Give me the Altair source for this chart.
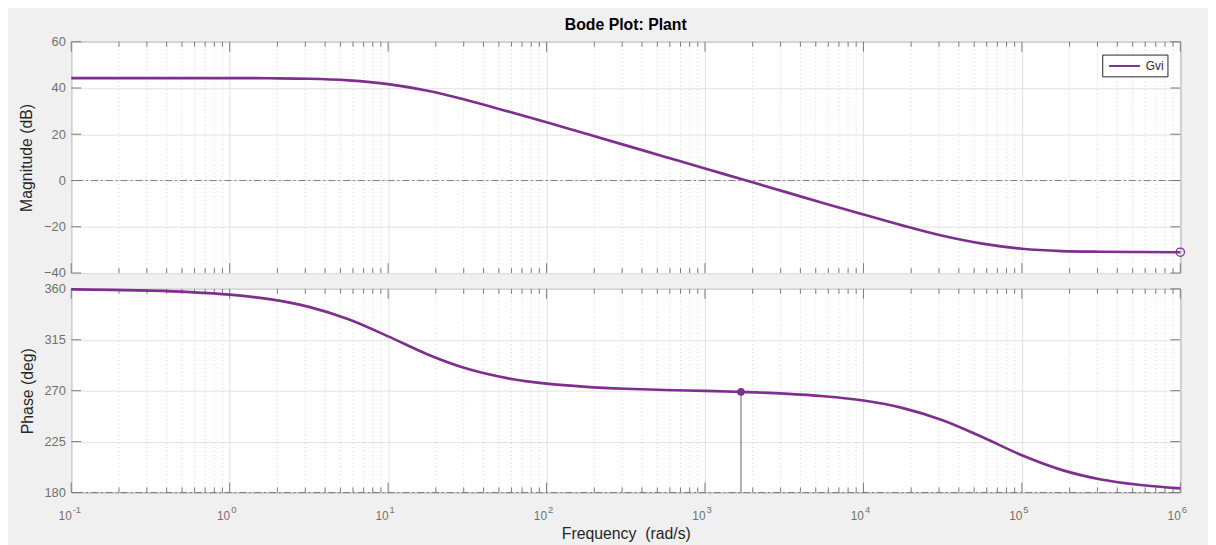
import altair as alt
import pandas as pd

# ---------------- data ----------------
freq = [0.1, 0.1778, 0.3162, 0.5623, 1.0, 1.778, 3.162, 5.623, 10.0, 17.78, 31.62,
        56.23, 100.0, 177.8, 316.2, 562.3, 1000.0, 1778.0, 3162.0, 5623.0, 10000.0,
        17780.0, 31620.0, 56230.0, 100000.0, 177800.0, 316200.0, 562300.0, 1000000.0]
mag_db = [44.3, 44.3, 44.3, 44.3, 44.3, 44.2, 44.0, 43.3, 41.7, 38.8, 34.7,
          30.0, 25.2, 20.2, 15.2, 10.2, 5.2, 0.2, -4.8, -9.8, -14.7,
          -19.5, -23.9, -27.3, -29.5, -30.5, -30.8, -30.9, -31.0]
phase_deg = [359.5, 359.1, 358.4, 357.1, 354.9, 350.9, 344.1, 333.1, 318.0, 302.0, 289.3,
             281.1, 276.2, 273.4, 271.7, 270.6, 269.8, 268.8, 267.4, 265.1, 261.3,
             254.6, 243.9, 229.0, 212.9, 200.0, 191.5, 186.6, 183.7]
series_name = "Gvi"

major_x = [0.1, 1, 10, 100, 1000, 1e4, 1e5, 1e6]
exponents = ["-1", "0", "1", "2", "3", "4", "5", "6"]
decades = [0.1, 1, 10, 100, 1000, 1e4, 1e5]
minor_mult = [2, 3, 4, 5, 6, 7, 8, 9]
minor_x = [m * d for d in decades for m in minor_mult]
mag_ticks = [-40, -20, 0, 20, 40, 60]
phase_ticks = [180, 225, 270, 315, 360]
mag_ref = [0]
phase_ref = [180]
pm_freq = [1687]
pm_phase = [268.9]
pm_base = [180]

# ---------------- styling ----------------
FONT = "Liberation Sans"
PURPLE = "#7E2F8E"
GRID = "#e2e2e2"
MINOR = "#d4d4d4"
TICK = "#7a7a7a"
REF = "#808080"
LABEL = "#707070"
TITLE = "#262626"
W = 1122
H1 = 234
H2 = 206

xs = alt.Scale(type="log", domain=[0.1, 1e6], nice=False)
ys1 = alt.Scale(domain=[-40, 60], nice=False, zero=False)
ys2 = alt.Scale(domain=[180, 360], nice=False, zero=False)

curve = pd.DataFrame({"freq": freq, "mag": mag_db, "phase": phase_deg,
                      "series": [series_name] * len(freq)})
major_df = pd.DataFrame({"x": major_x, "e": exponents})
minor_df = pd.DataFrame({"x": minor_x})


def decorations(H, ys, yticks, refvals, xax, yax):
    minor_grid = alt.Chart(minor_df).mark_rule(
        color=MINOR, strokeDash=[1, 3], strokeWidth=1
    ).encode(x=alt.X("x:Q", scale=xs, axis=xax), y=alt.value(0), y2=alt.value(H))
    ref = alt.Chart(pd.DataFrame({"v": refvals})).mark_rule(
        color=REF, strokeDash=[7, 3, 2, 3], strokeWidth=1
    ).encode(y=alt.Y("v:Q", scale=ys, axis=yax))
    layers = [minor_grid, ref]
    for y0, y1, src in [(H, H - 10, major_df), (0, 10, major_df),
                        (H, H - 5, minor_df), (0, 5, minor_df)]:
        layers.append(
            alt.Chart(src).mark_rule(color=TICK, strokeWidth=1).encode(
                x=alt.X("x:Q", scale=xs, axis=xax), y=alt.value(y0), y2=alt.value(y1))
        )
    ydf = pd.DataFrame({"y": yticks})
    for x0, x1 in [(0, 10), (W, W - 10)]:
        layers.append(
            alt.Chart(ydf).mark_rule(color=TICK, strokeWidth=1).encode(
                y=alt.Y("y:Q", scale=ys, axis=yax), x=alt.value(x0), x2=alt.value(x1))
        )
    return layers


# ---------------- top panel: magnitude ----------------
x_axis_top = alt.Axis(values=major_x, labels=False, ticks=False, tickSize=0, domain=False,
                      grid=True, gridColor=GRID, title=None)
y_axis1 = alt.Axis(values=mag_ticks, ticks=False, tickSize=0, domain=False, grid=True,
                   gridColor=GRID, labelFontSize=13, labelColor=LABEL, labelFont=FONT,
                   labelPadding=6, labelOverlap=False,
                   title="Magnitude (dB)", titleFontSize=16, titleFont=FONT,
                   titleFontWeight="normal", titleColor=TITLE, titlePadding=9)

legend_line = "M-2.4,0H2.4"
mag_line = alt.Chart(curve).mark_line(strokeWidth=2.7, interpolate="monotone").encode(
    x=alt.X("freq:Q", scale=xs, axis=x_axis_top),
    y=alt.Y("mag:Q", scale=ys1, axis=y_axis1),
    color=alt.Color("series:N", scale=alt.Scale(domain=[series_name], range=[PURPLE]),
                    legend=alt.Legend(orient="top-right", offset=13, title=None,
                                      strokeColor="#262626", fillColor="white",
                                      padding=4, symbolType=legend_line, symbolSize=169,
                                      symbolStrokeWidth=2, symbolOffset=11,
                                      labelFontSize=12, labelFont=FONT,
                                      labelColor="#262626", labelOffset=14)),
)
end_pt = alt.Chart(pd.DataFrame({"freq": [freq[-1]], "mag": [mag_db[-1]]})).mark_point(
    shape="circle", filled=False, color=PURPLE, size=70, strokeWidth=1.3, opacity=1
).encode(x=alt.X("freq:Q", scale=xs, axis=x_axis_top),
         y=alt.Y("mag:Q", scale=ys1, axis=y_axis1))

top = alt.layer(*decorations(H1, ys1, mag_ticks, mag_ref, x_axis_top, y_axis1),
                mag_line, end_pt).properties(
    width=W, height=H1,
    title=alt.TitleParams("Bode Plot: Plant", fontSize=16, fontWeight="bold", font=FONT,
                          color="#000000", anchor="middle", offset=3),
)

# ---------------- bottom panel: phase ----------------
x_axis_bot = alt.Axis(values=major_x, labelExpr="'10'", labelAlign="right",
                      labelBaseline="alphabetic", labelPadding=27,
                      labelFontSize=12, labelColor=LABEL, labelFont=FONT,
                      labelOverlap=False, labelFlush=False,
                      ticks=False, tickSize=0, domain=False, grid=True, gridColor=GRID,
                      title="Frequency\u00a0 (rad/s)", titleFontSize=16, titleFont=FONT,
                      titleFontWeight="normal", titleColor=TITLE, titleX=W / 2, titleY=42,
                      titleBaseline="middle")
y_axis2 = alt.Axis(values=phase_ticks, ticks=False, tickSize=0, domain=False, grid=True,
                   gridColor=GRID, labelFontSize=13, labelColor=LABEL, labelFont=FONT,
                   labelPadding=6, labelOverlap=False,
                   title="Phase (deg)", titleFontSize=16, titleFont=FONT,
                   titleFontWeight="normal", titleColor=TITLE, titlePadding=9)

pm_df = pd.DataFrame({"freq": pm_freq, "phase": pm_phase, "base": pm_base})
pm_rule = alt.Chart(pm_df).mark_rule(color="#7a7a7a", strokeWidth=1.2).encode(
    x=alt.X("freq:Q", scale=xs, axis=x_axis_bot),
    y=alt.Y("base:Q", scale=ys2, axis=y_axis2), y2="phase:Q")
phase_line = alt.Chart(curve).mark_line(strokeWidth=2.7, interpolate="monotone",
                                        color=PURPLE).encode(
    x=alt.X("freq:Q", scale=xs, axis=x_axis_bot),
    y=alt.Y("phase:Q", scale=ys2, axis=y_axis2),
)
pm_pt = alt.Chart(pm_df).mark_circle(size=60, color=PURPLE, opacity=1).encode(
    x=alt.X("freq:Q", scale=xs, axis=x_axis_bot),
    y=alt.Y("phase:Q", scale=ys2, axis=y_axis2))
exp_text = alt.Chart(major_df).mark_text(
    align="left", baseline="alphabetic", fontSize=9.5, font=FONT, color=LABEL, dx=1.5
).encode(x=alt.X("x:Q", scale=xs, axis=x_axis_bot), y=alt.value(H2 + 21), text="e:N")

bottom = alt.layer(*decorations(H2, ys2, phase_ticks, phase_ref, x_axis_bot, y_axis2),
                   pm_rule, phase_line, pm_pt, exp_text).properties(width=W, height=H2)

chart = alt.vconcat(top, bottom, spacing=16, bounds="flush").resolve_legend(
    color="independent"
).configure(
    background="#f0f0f0",
    padding={"left": 10, "top": 5, "right": 20, "bottom": 0},
).configure_view(stroke="#808080", strokeWidth=1, fill="white")

chart.save("out.html", embed_options={"renderer": "svg", "actions": False})
